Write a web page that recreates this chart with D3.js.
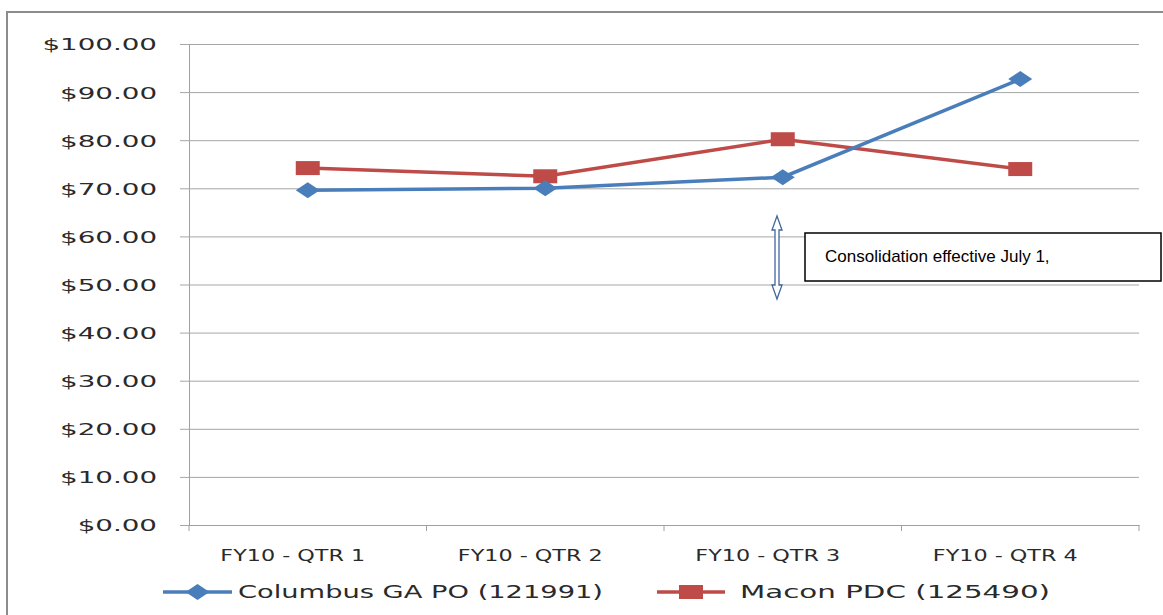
<!DOCTYPE html>
<html>
<head>
<meta charset="utf-8">
<script src="https://cdn.jsdelivr.net/npm/d3@7"></script>
<style>
  body { margin: 0; background: #fff; }
  svg { display: block; }
</style>
</head>
<body>
<svg id="chart" width="1163" height="615"></svg>
<script>
// chart data
var quarters = ["FY10 - QTR 1", "FY10 - QTR 2", "FY10 - QTR 3", "FY10 - QTR 4"];
var columbus = [69.6, 70.0, 72.3, 92.7];
var macon = [74.2, 72.5, 80.2, 74.0];
var seriesNames = ["Columbus GA PO (121991)", "Macon PDC (125490)"];
var yTicks = [0, 10, 20, 30, 40, 50, 60, 70, 80, 90, 100];
var note = "Consolidation effective July 1,";

var blue = "#4a7ebb", red = "#be4b48";
var svg = d3.select("#chart");
var plotL = 189, plotR = 1139, plotT = 44, plotB = 525;

// stretch text horizontally like the original picture
function stretch(sel, k) {
  sel.each(function () {
    var w = this.getComputedTextLength();
    d3.select(this).attr("textLength", w * k).attr("lengthAdjust", "spacingAndGlyphs");
  });
}

// outer frame
svg.append("path")
  .attr("d", "M7,615 L7,12 L1163,12")
  .attr("fill", "none").attr("stroke", "#8c8c8c").attr("stroke-width", 2);

var x = d3.scaleBand().domain(quarters).range([plotL, plotR]);
var y = d3.scaleLinear().domain([0, 100]).range([plotB, plotT]);

// grid + y axis
var yAxis = svg.append("g")
  .attr("transform", "translate(" + plotL + ",0)")
  .call(d3.axisLeft(y).tickValues(yTicks).tickSize(-(plotR - plotL)).tickSizeOuter(0)
    .tickFormat(function (d) { return "$" + d3.format(".2f")(d); }));
yAxis.select(".domain").attr("stroke", "#a0a0a0");
yAxis.selectAll(".tick line").attr("stroke", "#a6a6a6").attr("x1", -9);
yAxis.selectAll(".tick text")
  .attr("x", -32).attr("dy", "0.36em")
  .attr("font-family", "DejaVu Sans").attr("font-size", 16.5).attr("fill", "#2a2a2a")
  .call(stretch, 1.68);

// x axis
var xAxis = svg.append("g")
  .attr("transform", "translate(0," + plotB + ")")
  .call(d3.axisBottom(x).tickSize(0).tickSizeOuter(0));
xAxis.select(".domain").attr("stroke", "#a0a0a0");
xAxis.selectAll(".tick text")
  .attr("y", 24).attr("dx", -15)
  .attr("font-family", "DejaVu Sans").attr("font-size", 16.5).attr("fill", "#2a2a2a")
  .call(stretch, 1.35);
// category separators
svg.append("g").selectAll("line")
  .data(quarters.map(function (q) { return x(q); }).concat([plotR]))
  .join("line")
  .attr("x1", function (d) { return d; }).attr("x2", function (d) { return d; })
  .attr("y1", plotB).attr("y2", plotB + 6)
  .attr("stroke", "#a0a0a0");

var cx = function (d, i) { return x(quarters[i]) + x.bandwidth() / 2; };
var line = d3.line().x(cx).y(function (d) { return y(d); });

// series lines
svg.append("path").datum(macon)
  .attr("d", line).attr("fill", "none").attr("stroke", red).attr("stroke-width", 3.5);
svg.append("path").datum(columbus)
  .attr("d", line).attr("fill", "none").attr("stroke", blue).attr("stroke-width", 3.5);

// markers
function diamond(g) {
  g.append("path").attr("d", "M-12,0 L0,-8 L12,0 L0,8 Z").attr("fill", blue);
}
function square(g) {
  g.append("rect").attr("x", -12).attr("y", -7).attr("width", 24).attr("height", 14).attr("fill", red);
}
svg.append("g").selectAll("g").data(macon).join("g")
  .attr("transform", function (d, i) { return "translate(" + cx(d, i) + "," + y(d) + ")"; })
  .each(function () { square(d3.select(this)); });
svg.append("g").selectAll("g").data(columbus).join("g")
  .attr("transform", function (d, i) { return "translate(" + cx(d, i) + "," + y(d) + ")"; })
  .each(function () { diamond(d3.select(this)); });

// annotation arrow
var ax = 777, ay1 = 216, ay2 = 299;
svg.append("path")
  .attr("d", "M" + ax + "," + ay1 + " L" + (ax + 5) + "," + (ay1 + 14) + " L" + (ax + 2) + "," + (ay1 + 14) +
    " L" + (ax + 2) + "," + (ay2 - 14) + " L" + (ax + 5) + "," + (ay2 - 14) + " L" + ax + "," + ay2 +
    " L" + (ax - 5) + "," + (ay2 - 14) + " L" + (ax - 2) + "," + (ay2 - 14) + " L" + (ax - 2) + "," + (ay1 + 14) +
    " L" + (ax - 5) + "," + (ay1 + 14) + " Z")
  .attr("fill", "#fff").attr("stroke", "#41679c").attr("stroke-width", 1.3);

// annotation box
svg.append("rect").attr("x", 805).attr("y", 233).attr("width", 356).attr("height", 48)
  .attr("fill", "#fff").attr("stroke", "#000").attr("stroke-width", 1.5);
svg.append("text").attr("x", 825).attr("y", 262)
  .attr("font-family", "Liberation Sans, Arial").attr("font-size", 17).attr("fill", "#000")
  .text(note);

// legend
var legend = [
  { name: seriesNames[0], color: blue, x1: 163, x2: 232, tx: 238, len: 365, mark: diamond },
  { name: seriesNames[1], color: red, x1: 657, x2: 725, tx: 740, len: 310, mark: square }
];
var ly = 592;
legend.forEach(function (l) {
  svg.append("line").attr("x1", l.x1).attr("x2", l.x2).attr("y1", ly).attr("y2", ly)
    .attr("stroke", l.color).attr("stroke-width", 3.5);
  var g = svg.append("g").attr("transform", "translate(" + ((l.x1 + l.x2) / 2) + "," + ly + ")");
  l.mark(g);
  svg.append("text").attr("x", l.tx).attr("y", ly).attr("dy", "0.36em")
    .attr("font-family", "DejaVu Sans").attr("font-size", 17).attr("fill", "#2a2a2a")
    .attr("textLength", l.len).attr("lengthAdjust", "spacingAndGlyphs")
    .text(l.name);
});
</script>
</body>
</html>
